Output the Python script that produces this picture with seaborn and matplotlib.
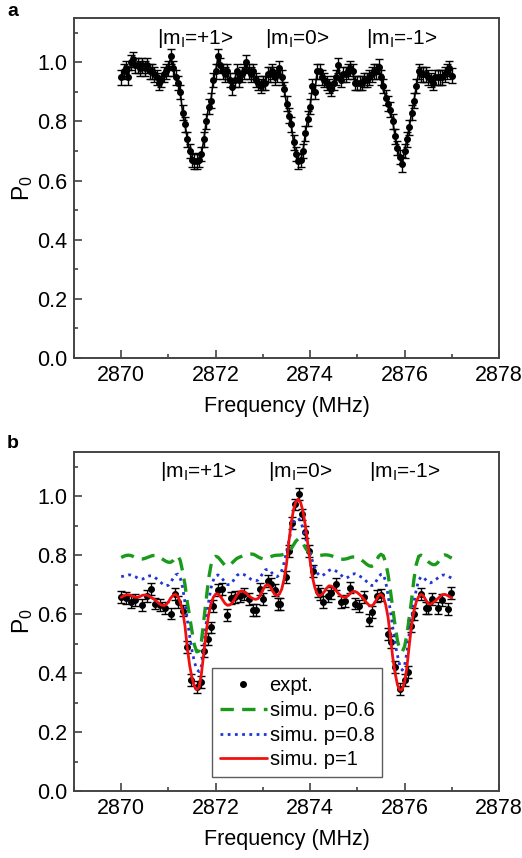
import matplotlib
matplotlib.use("Agg")
import matplotlib.pyplot as plt
from matplotlib.ticker import MultipleLocator
from matplotlib.lines import Line2D
import numpy as np
import seaborn as sns

# ---- panel a: measured P0 (0.05 MHz grid) ----
freq_a = np.round(np.arange(2870.0, 2877.001, 0.05), 2)
p0_a = [0.95, 0.97, 0.98, 0.95, 1.00, 1.01, 0.99, 0.99, 0.98, 0.99,
        0.98, 0.99, 0.97, 0.97, 0.96, 0.95, 0.93, 0.94, 0.96, 0.97,
        0.98, 1.02, 0.98, 0.95, 0.93, 0.90, 0.83, 0.79, 0.74, 0.70,
        0.67, 0.665, 0.665, 0.67, 0.69, 0.74, 0.80, 0.85, 0.87, 0.94,
        0.97, 1.02, 0.99, 0.97, 0.96, 0.97, 0.94, 0.915, 0.94, 0.97,
        0.94, 0.96, 0.97, 1.00, 0.97, 0.96, 0.97, 0.94, 0.93, 0.92,
        0.93, 0.93, 0.96, 0.96, 0.97, 0.95, 0.96, 0.98, 0.95, 0.91,
        0.86, 0.82, 0.79, 0.73, 0.69, 0.665, 0.67, 0.70, 0.76, 0.81,
        0.85, 0.92, 0.90, 0.97, 0.97, 0.95, 0.94, 0.93, 0.92, 0.91,
        0.93, 0.95, 0.99, 0.94, 0.96, 0.96, 0.97, 0.98, 0.97, 0.93,
        0.93, 0.93, 0.93, 0.94, 0.94, 0.95, 0.96, 0.97, 0.97, 0.985,
        0.95, 0.92, 0.88, 0.86, 0.84, 0.80, 0.75, 0.71, 0.68, 0.655,
        0.70, 0.74, 0.78, 0.83, 0.87, 0.92, 0.97, 0.96, 0.96, 0.96,
        0.95, 0.94, 0.93, 0.95, 0.95, 0.95, 0.95, 0.96, 0.97, 0.98,
        0.955]
err_a = 0.025

# ---- panel b: measured points ----
freq_b = [2870.00, 2870.10, 2870.20, 2870.30, 2870.43, 2870.54, 2870.63, 2870.72,
          2870.82, 2870.93, 2871.05, 2871.13, 2871.21, 2871.30, 2871.39, 2871.48,
          2871.60, 2871.69, 2871.76, 2871.83, 2871.90, 2871.95, 2872.04, 2872.13,
          2872.23, 2872.32, 2872.40, 2872.51, 2872.60, 2872.70, 2872.79, 2872.86,
          2872.93, 2873.00, 2873.10, 2873.17, 2873.25, 2873.31, 2873.36, 2873.48,
          2873.55, 2873.62, 2873.67, 2873.76, 2873.83, 2873.90, 2873.97, 2874.07,
          2874.16, 2874.21, 2874.28, 2874.37, 2874.44, 2874.54, 2874.65, 2874.74,
          2874.85, 2874.94, 2875.04, 2875.15, 2875.25, 2875.32, 2875.41, 2875.51,
          2875.66, 2875.72, 2875.79, 2875.90, 2876.00, 2876.07, 2876.13, 2876.20,
          2876.35, 2876.46, 2876.50, 2876.59, 2876.71, 2876.80, 2876.92, 2876.99]
p0_b = [0.657, 0.654, 0.642, 0.648, 0.631, 0.662, 0.685, 0.636,
        0.630, 0.622, 0.602, 0.668, 0.642, 0.612, 0.488, 0.377,
        0.353, 0.369, 0.476, 0.515, 0.555, 0.628, 0.681, 0.684,
        0.598, 0.655, 0.657, 0.660, 0.668, 0.650, 0.614, 0.614,
        0.684, 0.650, 0.713, 0.701, 0.681, 0.634, 0.634, 0.726,
        0.814, 0.910, 0.972, 1.008, 0.938, 0.878, 0.814, 0.746,
        0.679, 0.668, 0.640, 0.662, 0.673, 0.701, 0.640, 0.645,
        0.690, 0.636, 0.628, 0.657, 0.580, 0.606, 0.662, 0.666,
        0.532, 0.505, 0.420, 0.347, 0.377, 0.403, 0.560, 0.600,
        0.667, 0.622, 0.622, 0.651, 0.622, 0.647, 0.617, 0.673]
err_b = 0.02

# ---- panel b: simulations (0.05 MHz grid) ----
freq_sim = np.round(np.arange(2870.0, 2877.001, 0.05), 2)
simu_p1 = [0.657, 0.662, 0.665, 0.666, 0.664, 0.660, 0.657, 0.657, 0.660, 0.664,
           0.665, 0.664, 0.660, 0.655, 0.650, 0.643, 0.636, 0.631, 0.629, 0.632,
           0.642, 0.655, 0.664, 0.667, 0.660, 0.640, 0.612, 0.560, 0.485, 0.425,
           0.383, 0.355, 0.344, 0.352, 0.400, 0.470, 0.540, 0.598, 0.635, 0.657,
           0.668, 0.668, 0.660, 0.648, 0.636, 0.630, 0.631, 0.638, 0.650, 0.664,
           0.675, 0.679, 0.676, 0.670, 0.662, 0.656, 0.652, 0.650, 0.653, 0.665,
           0.682, 0.696, 0.700, 0.694, 0.680, 0.667, 0.662, 0.668, 0.685, 0.720,
           0.770, 0.845, 0.910, 0.955, 0.982, 0.990, 0.978, 0.948, 0.900, 0.840,
           0.780, 0.725, 0.690, 0.668, 0.662, 0.666, 0.676, 0.688, 0.696, 0.695,
           0.688, 0.680, 0.670, 0.662, 0.658, 0.657, 0.662, 0.670, 0.676, 0.677,
           0.673, 0.666, 0.658, 0.648, 0.638, 0.630, 0.628, 0.634, 0.648, 0.663,
           0.667, 0.658, 0.632, 0.590, 0.525, 0.453, 0.400, 0.360, 0.342, 0.345,
           0.368, 0.420, 0.495, 0.565, 0.612, 0.643, 0.660, 0.667, 0.662, 0.648,
           0.636, 0.634, 0.638, 0.645, 0.652, 0.660, 0.666, 0.667, 0.664, 0.659,
           0.655]
simu_p08 = [0.727, 0.729, 0.731, 0.733, 0.733, 0.731, 0.727, 0.722, 0.719, 0.719,
            0.722, 0.727, 0.730, 0.730, 0.726, 0.720, 0.713, 0.706, 0.699, 0.696,
            0.698, 0.708, 0.722, 0.733, 0.736, 0.722, 0.690, 0.640, 0.580, 0.525,
            0.475, 0.438, 0.412, 0.405, 0.425, 0.490, 0.570, 0.640, 0.688, 0.715,
            0.730, 0.733, 0.728, 0.718, 0.708, 0.700, 0.700, 0.708, 0.720, 0.731,
            0.737, 0.737, 0.734, 0.730, 0.724, 0.718, 0.714, 0.713, 0.716, 0.726,
            0.740, 0.750, 0.752, 0.748, 0.738, 0.730, 0.727, 0.733, 0.748, 0.775,
            0.812, 0.850, 0.885, 0.910, 0.922, 0.926, 0.915, 0.890, 0.860, 0.830,
            0.808, 0.780, 0.758, 0.740, 0.730, 0.730, 0.735, 0.742, 0.748, 0.752,
            0.751, 0.746, 0.740, 0.733, 0.726, 0.722, 0.725, 0.731, 0.736, 0.737,
            0.734, 0.729, 0.724, 0.718, 0.710, 0.702, 0.697, 0.698, 0.712, 0.726,
            0.735, 0.735, 0.710, 0.665, 0.610, 0.555, 0.500, 0.460, 0.425, 0.410,
            0.425, 0.470, 0.535, 0.590, 0.640, 0.685, 0.715, 0.727, 0.725, 0.716,
            0.708, 0.706, 0.710, 0.716, 0.722, 0.728, 0.732, 0.733, 0.730, 0.726,
            0.722]
simu_p06 = [0.792, 0.796, 0.799, 0.800, 0.799, 0.796, 0.792, 0.789, 0.787, 0.787,
            0.789, 0.792, 0.795, 0.798, 0.799, 0.799, 0.795, 0.789, 0.784, 0.779,
            0.776, 0.776, 0.782, 0.793, 0.798, 0.782, 0.745, 0.700, 0.640, 0.590,
            0.540, 0.495, 0.472, 0.475, 0.510, 0.580, 0.650, 0.720, 0.765, 0.790,
            0.796, 0.793, 0.784, 0.774, 0.765, 0.762, 0.766, 0.774, 0.782, 0.789,
            0.793, 0.796, 0.799, 0.802, 0.804, 0.804, 0.803, 0.799, 0.794, 0.790,
            0.788, 0.788, 0.790, 0.794, 0.797, 0.799, 0.800, 0.800, 0.801, 0.803,
            0.806, 0.812, 0.822, 0.835, 0.848, 0.855, 0.852, 0.840, 0.825, 0.813,
            0.806, 0.802, 0.800, 0.799, 0.799, 0.800, 0.801, 0.801, 0.800, 0.798,
            0.795, 0.792, 0.789, 0.787, 0.786, 0.787, 0.789, 0.792, 0.794, 0.794,
            0.792, 0.788, 0.782, 0.776, 0.769, 0.764, 0.762, 0.766, 0.780, 0.796,
            0.803, 0.798, 0.775, 0.735, 0.680, 0.620, 0.560, 0.510, 0.478, 0.472,
            0.490, 0.530, 0.590, 0.650, 0.720, 0.770, 0.796, 0.800, 0.795, 0.786,
            0.778, 0.772, 0.768, 0.768, 0.774, 0.786, 0.798, 0.801, 0.799, 0.794,
            0.790]

state_labels = ["|m$_\\mathregular{I}$=+1>", "|m$_\\mathregular{I}$=0>", "|m$_\\mathregular{I}$=-1>"]
state_pos_a = [2871.56, 2873.72, 2875.95]
state_pos_b = [2871.63, 2873.79, 2876.0]

sns.set_style("ticks")
plt.rcParams["font.family"] = ["Liberation Sans", "DejaVu Sans"]
plt.rcParams["mathtext.fontset"] = "custom"
plt.rcParams["mathtext.rm"] = "Liberation Sans"
plt.rcParams["mathtext.it"] = "Liberation Sans:italic"
for key in ["text.color", "axes.labelcolor", "xtick.color", "ytick.color"]:
    plt.rcParams[key] = "black"

fig = plt.figure(figsize=(5.22, 8.58), dpi=100)
ax_a = fig.add_axes([74 / 522, 1 - 358 / 858, 425 / 522, 340 / 858])
ax_b = fig.add_axes([74 / 522, 1 - 791 / 858, 425 / 522, 339 / 858])


def style_axis(ax):
    ax.set_xlim(2869, 2878)
    ax.set_ylim(0, 1.15)
    ax.xaxis.set_major_locator(MultipleLocator(2))
    ax.xaxis.set_minor_locator(MultipleLocator(1))
    ax.yaxis.set_major_locator(MultipleLocator(0.2))
    ax.yaxis.set_minor_locator(MultipleLocator(0.1))
    ax.yaxis.set_major_formatter(matplotlib.ticker.FormatStrFormatter("%.1f"))
    ax.tick_params(which="both", direction="in", top=False, right=False,
                   labelsize=15.5, color="#333333", width=1.1)
    ax.tick_params(which="major", length=6, pad=5)
    ax.tick_params(which="minor", length=3)
    for sp in ax.spines.values():
        sp.set_visible(True)
        sp.set_color("#444444")
        sp.set_linewidth(1.4)
    ax.set_xlabel("Frequency (MHz)", fontsize=15.5, labelpad=7)
    ax.set_ylabel("P$_\\mathregular{0}$", fontsize=16.5, labelpad=1)


# panel a
ax_a.errorbar(freq_a, p0_a, yerr=err_a, fmt="-o", color="black", ms=4,
              lw=1.2, elinewidth=1.0, capsize=3, capthick=1.0)
style_axis(ax_a)
for lab, pos in zip(state_labels, state_pos_a):
    ax_a.text(pos, 1.08, lab, ha="center", va="center", fontsize=15)
fig.text(7 / 522, 1 - 11 / 858, "a", fontsize=14, fontweight="bold", va="center")

# panel b
ax_b.errorbar(freq_b, p0_b, yerr=err_b, fmt="o", color="black", ms=4,
              elinewidth=1.0, capsize=3, capthick=1.0, zorder=2)
sns.lineplot(x=freq_sim, y=simu_p06, ax=ax_b, color="#1a9a1a", lw=2.4,
             linestyle=(0, (4, 2.5)), zorder=3)
sns.lineplot(x=freq_sim, y=simu_p08, ax=ax_b, color="#1f35d6", lw=2.0,
             linestyle=(0, (1, 1.6)), zorder=3)
sns.lineplot(x=freq_sim, y=simu_p1, ax=ax_b, color="#f01010", lw=2.0, zorder=4)
style_axis(ax_b)
for lab, pos in zip(state_labels, state_pos_b):
    ax_b.text(pos, 1.085, lab, ha="center", va="center", fontsize=15)
fig.text(7 / 522, 1 - 443 / 858, "b", fontsize=14, fontweight="bold", va="center")

handles = [
    Line2D([], [], color="black", marker="o", ms=4, ls="none"),
    Line2D([], [], color="#1a9a1a", lw=2.4, ls=(0, (4, 2.5))),
    Line2D([], [], color="#1f35d6", lw=2.0, ls=(0, (1, 1.6))),
    Line2D([], [], color="#f01010", lw=2.0),
]
labels = ["expt.", "simu. p=0.6", "simu. p=0.8", "simu. p=1"]
leg = ax_b.legend(handles, labels, loc="lower left", bbox_to_anchor=(0.325, 0.04),
                  fontsize=14.5, frameon=True, fancybox=False, edgecolor="#333333",
                  handlelength=2.3, handletextpad=0.15, borderpad=0.4,
                  labelspacing=0.28, borderaxespad=0)
leg.get_frame().set_linewidth(1.0)

fig.savefig("out.png", dpi=100)
